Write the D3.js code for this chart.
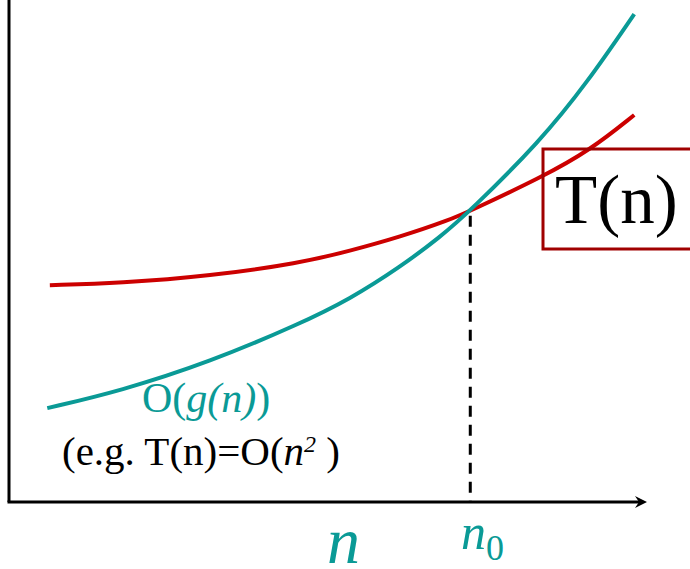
<!DOCTYPE html>
<html>
<head>
<meta charset="utf-8">
<script src="https://cdn.jsdelivr.net/npm/d3@7"></script>
<style>
  html, body { margin: 0; padding: 0; background: #fff; }
  svg { display: block; }
  text { font-family: "Liberation Serif", "Times New Roman", serif; }
</style>
</head>
<body>
<svg id="chart" width="690" height="569"></svg>
<script>
// Problem size n (0..100 on the horizontal axis)
const nValues  = [6.0, 17.4, 31.5, 45.6, 53.4, 61.3, 67.6, 72.3, 83.2, 90.6, 98.0];
// c·g(n) upper-bound curve
const boundValues = [18.7, 22.1, 27.9, 35.5, 40.4, 46.8, 52.8, 58.0, 71.8, 83.5, 97.2];
// T(n) running-time curve
const tnN      = [6.4, 17.4, 31.5, 45.6, 53.4, 61.3, 69.1, 72.3, 83.5, 91.1, 98.0];
const tnValues = [43.2, 43.6, 45.0, 47.6, 50.0, 52.8, 56.2, 58.0, 64.7, 70.1, 77.1];
// Crossing point n0
const n0 = 72.3;
const n0Value = 58.0;

const TEAL = "#0a9a96";
const RED = "#cc0000";
const BOX = "#a00000";

const svg = d3.select("#chart");
const x = d3.scaleLinear().domain([0, 100]).range([9, 647]);
const y = d3.scaleLinear().domain([0, 100]).range([502, 0]);

const line = d3.line()
  .x(d => x(d[0]))
  .y(d => y(d[1]))
  .curve(d3.curveBasis);

// Axes
svg.append("line")
  .attr("x1", x(0)).attr("x2", x(0))
  .attr("y1", y(0)).attr("y2", y(100))
  .attr("stroke", "#000").attr("stroke-width", 3);
svg.append("line")
  .attr("x1", x(0) - 1.5).attr("x2", x(100) - 6)
  .attr("y1", y(0)).attr("y2", y(0))
  .attr("stroke", "#000").attr("stroke-width", 3);
const tipX = x(100), tipY = y(0);
svg.append("path")
  .attr("d", `M${tipX},${tipY} L${tipX - 12},${tipY - 6} L${tipX - 8},${tipY} L${tipX - 12},${tipY + 6} Z`)
  .attr("fill", "#000");

// Dashed marker at n0
svg.append("line")
  .attr("x1", x(n0)).attr("x2", x(n0))
  .attr("y1", y(n0Value) + 5).attr("y2", y(0))
  .attr("stroke", "#000").attr("stroke-width", 3)
  .attr("stroke-dasharray", "11,8");

// Curves
svg.append("path")
  .datum(tnN.map((n, i) => [n, tnValues[i]]))
  .attr("d", line)
  .attr("fill", "none").attr("stroke", RED).attr("stroke-width", 4);
svg.append("path")
  .datum(nValues.map((n, i) => [n, boundValues[i]]))
  .attr("d", line)
  .attr("fill", "none").attr("stroke", TEAL).attr("stroke-width", 4);

// T(n) label box
svg.append("rect")
  .attr("x", 543).attr("y", 149).attr("width", 160).attr("height", 100)
  .attr("fill", "none").attr("stroke", BOX).attr("stroke-width", 3);
svg.append("text")
  .attr("x", 555).attr("y", 223)
  .attr("font-size", 69).attr("fill", "#000")
  .text("T(n)");

// O(g(n)) label
const og = svg.append("text")
  .attr("x", 142).attr("y", 412)
  .attr("font-size", 42).attr("fill", TEAL);
og.append("tspan").text("O(");
og.append("tspan").attr("font-style", "italic").text("g(n)");
og.append("tspan").text(")");

// Example label
const ex = svg.append("text")
  .attr("x", 62).attr("y", 465)
  .attr("font-size", 41).attr("fill", "#000");
ex.append("tspan").text("(e.g. T(n)=O(");
ex.append("tspan").attr("font-style", "italic").text("n");
ex.append("tspan").attr("font-style", "italic").attr("font-size", 24).attr("dy", -13).text("2");
ex.append("tspan").attr("dy", 13).text(" )");

// Axis labels
svg.append("text")
  .attr("x", 327).attr("y", 563)
  .attr("font-size", 66).attr("font-style", "italic").attr("fill", TEAL)
  .text("n");
const n0Label = svg.append("text")
  .attr("x", 461).attr("y", 549)
  .attr("font-size", 50).attr("fill", TEAL);
n0Label.append("tspan").attr("font-style", "italic").text("n");
n0Label.append("tspan").attr("font-size", 36).attr("dy", 11).text("0");
</script>
</body>
</html>
